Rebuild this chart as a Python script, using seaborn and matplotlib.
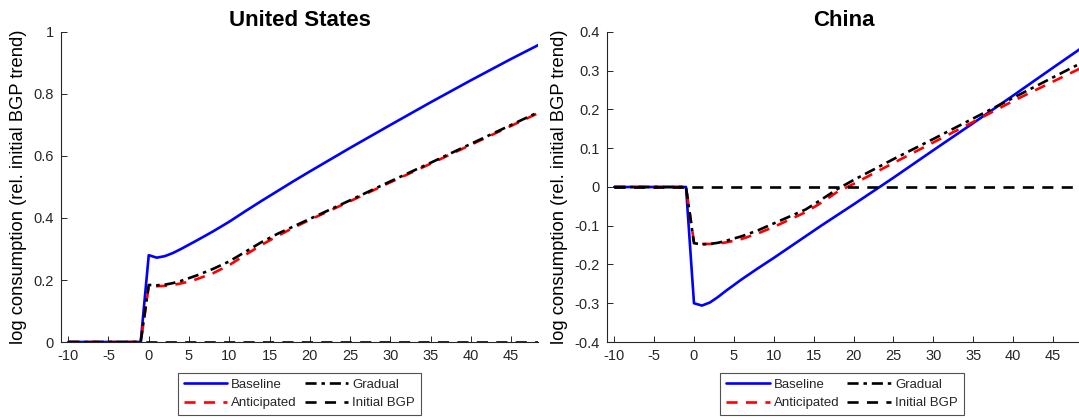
import numpy as np
import pandas as pd
import matplotlib
matplotlib.use("Agg")
import matplotlib.pyplot as plt
import seaborn as sns

# ---------------- data ----------------
t = [-10, -9, -8, -7, -6, -5, -4, -3, -2, -1, 0, 1, 2, 3, 4, 5, 6, 8, 10, 12, 14,
     16, 18, 20, 25, 30, 35, 40, 45, 49]
pre = [0.0] * 10

us_baseline = pre + [0.280, 0.272, 0.277, 0.287, 0.300, 0.314, 0.328, 0.357, 0.388,
                     0.422, 0.455, 0.487, 0.519, 0.550, 0.626, 0.700, 0.773, 0.844,
                     0.913, 0.966]
us_anticipated = pre + [0.180, 0.180, 0.181, 0.184, 0.189, 0.195, 0.203, 0.222, 0.248,
                        0.281, 0.313, 0.342, 0.369, 0.394, 0.454, 0.515, 0.575, 0.636,
                        0.697, 0.746]
us_gradual = pre + [0.184, 0.183, 0.185, 0.190, 0.197, 0.206, 0.215, 0.236, 0.260,
                    0.291, 0.322, 0.349, 0.373, 0.397, 0.457, 0.518, 0.578, 0.639,
                    0.700, 0.749]

cn_baseline = pre + [-0.300, -0.306, -0.298, -0.284, -0.268, -0.253, -0.238, -0.210,
                     -0.183, -0.155, -0.127, -0.099, -0.072, -0.045, 0.024, 0.095,
                     0.165, 0.236, 0.308, 0.365]
cn_anticipated = pre + [-0.143, -0.147, -0.147, -0.146, -0.143, -0.139, -0.134, -0.120,
                        -0.103, -0.084, -0.065, -0.040, -0.012, 0.008, 0.062, 0.115,
                        0.168, 0.222, 0.272, 0.312]
cn_gradual = pre + [-0.145, -0.148, -0.147, -0.144, -0.139, -0.133, -0.127, -0.112,
                    -0.094, -0.076, -0.058, -0.032, -0.005, 0.018, 0.072, 0.124,
                    0.177, 0.230, 0.283, 0.325]
initial_bgp = [0.0] * len(t)

series_names = ["Baseline", "Anticipated", "Gradual", "Initial BGP"]
titles = ["United States", "China"]
ylabel = "log consumption (rel. initial BGP trend)"
xticks = [-10, -5, 0, 5, 10, 15, 20, 25, 30, 35, 40, 45]
us_yticks = [0, 0.2, 0.4, 0.6, 0.8, 1.0]
us_yticklabels = ["0", "0.2", "0.4", "0.6", "0.8", "1"]
cn_yticks = [-0.4, -0.3, -0.2, -0.1, 0, 0.1, 0.2, 0.3, 0.4]
cn_yticklabels = ["-0.4", "-0.3", "-0.2", "-0.1", "0", "0.1", "0.2", "0.3", "0.4"]

# ---------------- style ----------------
sns.set_theme(style="white")
plt.rcParams["font.family"] = ["Liberation Sans", "DejaVu Sans"]
plt.rcParams["axes.unicode_minus"] = False
plt.rcParams["lines.scale_dashes"] = False

styles = {
    "Baseline": dict(color=(0, 0, 1), dashes=None, lw=1.9),
    "Anticipated": dict(color=(1, 0, 0), dashes=(8, 6), lw=1.9),
    "Gradual": dict(color=(0, 0, 0), dashes=(8, 3.5, 2.5, 3.5), lw=1.9),
    "Initial BGP": dict(color=(0, 0, 0), dashes=(8, 6), lw=1.9),
}

fig = plt.figure(figsize=(10.79, 4.19), dpi=100)
ax1 = fig.add_axes([61 / 1079, 1 - 342 / 419, 477 / 1079, 310 / 419])
ax2 = fig.add_axes([607 / 1079, 1 - 342 / 419, 474 / 1079, 310 / 419])

panels = [
    (ax1, [us_baseline, us_anticipated, us_gradual, initial_bgp], (0, 1), us_yticks,
     us_yticklabels, (-10.9, 48.35)),
    (ax2, [cn_baseline, cn_anticipated, cn_gradual, initial_bgp], (-0.4, 0.4), cn_yticks,
     cn_yticklabels, (-10.9, 48.5)),
]

axis_col = (0.15, 0.15, 0.15)
for (ax, vals, ylim, yt, ytl, xlim), title in zip(panels, titles):
    for name, v in zip(series_names, vals):
        df = pd.DataFrame({"t": t, "v": v})
        st = styles[name]
        sns.lineplot(data=df, x="t", y="v", ax=ax, color=st["color"], lw=st["lw"],
                     label=name, legend=False, estimator=None, sort=False)
        line = ax.lines[-1]
        if st["dashes"] is not None:
            line.set_dashes(st["dashes"])
            line.set_dash_capstyle("butt")
    ax.set_xlim(*xlim)
    ax.set_ylim(*ylim)
    ax.set_xticks(xticks)
    ax.set_xticklabels([str(x) for x in xticks])
    ax.set_yticks(yt)
    ax.set_yticklabels(ytl)
    ax.set_xlabel("")
    ax.set_ylabel(ylabel, fontsize=13.2, color="black", labelpad=5)
    ax.set_title(title, fontsize=16, fontweight="bold", pad=4, color="black")
    for s in ["top", "right"]:
        ax.spines[s].set_visible(False)
    for s in ["left", "bottom"]:
        ax.spines[s].set_color(axis_col)
        ax.spines[s].set_linewidth(0.8)
    ax.tick_params(axis="both", direction="in", length=4, width=0.7, colors=axis_col,
                   labelsize=10.5, labelcolor=axis_col, bottom=True, left=True, pad=5)
    ax.patch.set_alpha(0)

    handles = ax.lines[:4]
    cx = (ax.get_position().x0 + ax.get_position().x1) / 2
    if ax is ax2:
        cx = 842 / 1079
    leg = fig.legend(handles, series_names, ncol=2, loc="center",
                     bbox_to_anchor=(cx, 1 - 394 / 419), bbox_transform=fig.transFigure,
                     fontsize=9.5, frameon=True, fancybox=False, handlelength=3.3,
                     handletextpad=0.3, columnspacing=0.6, labelspacing=0.45,
                     borderpad=0.45, borderaxespad=0)
    leg.get_frame().set_edgecolor((0.15, 0.15, 0.15))
    leg.get_frame().set_linewidth(0.8)

fig.savefig("out.png", dpi=100)
